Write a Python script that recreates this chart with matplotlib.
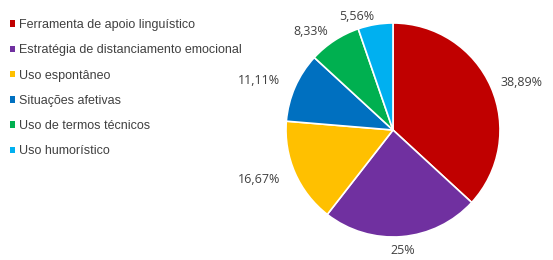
import numpy as np
import matplotlib
matplotlib.use('Agg')
import matplotlib.pyplot as plt
from matplotlib.patches import Patch

categories = ['Ferramenta de apoio linguístico',
              'Estratégia de distanciamento emocional',
              'Uso espontâneo',
              'Situações afetivas',
              'Uso de termos técnicos',
              'Uso humorístico']
values = [38.89, 25, 16.67, 11.11, 8.33, 5.56]
colors = ['#C00000', '#7030A0', '#FFC000', '#0070C0', '#00B050', '#00B0F0']

# label text like Excel: comma decimals, no trailing zeros
labels = [('%.2f' % v).rstrip('0').rstrip('.').replace('.', ',') + '%' for v in values]
label_dist = [1.1, 1.07, 1.15, 1.15, 1.1, 1.08]

W, H = 553, 260
fig = plt.figure(figsize=(W / 100, H / 100), dpi=100)

cx, cy, r = 393, 130, 107
ax = fig.add_axes([(cx - r) / W, (cy - r) / H, 2 * r / W, 2 * r / H])
wedges, _ = ax.pie(values, colors=colors, startangle=90, counterclock=False,
                   radius=1, wedgeprops=dict(edgecolor='white', linewidth=1.2))
ax.set_xlim(-1, 1)
ax.set_ylim(-1, 1)
ax.set_aspect('equal')
ax.axis('off')

# "outside end" labels: anchor just past the rim, aligned away from the pie
for w, lab, d in zip(wedges, labels, label_dist):
    ang = np.deg2rad((w.theta1 + w.theta2) / 2)
    c, s = np.cos(ang), np.sin(ang)
    ha, va = 'center', 'center'
    if c > 0.1:
        ha = 'left'
    elif c < -0.1:
        ha = 'right'
    else:
        va = 'bottom' if s > 0 else 'top'
    ax.text(d * c, d * s, lab, ha=ha, va=va,
            fontsize=9, color='#404040', family='Open Sans', clip_on=False)

handles = [Patch(facecolor=c, edgecolor='none') for c in colors]
fig.legend(handles, categories, loc='upper left', bbox_to_anchor=(-0.005, 0.975),
           bbox_transform=fig.transFigure, frameon=False,
           prop={'family': 'Liberation Sans', 'size': 9},
           labelcolor='#404040', handlelength=0.42, handleheight=0.42,
           handletextpad=0.3, labelspacing=1.06, borderaxespad=0.6)

fig.savefig('out.png', dpi=100)
